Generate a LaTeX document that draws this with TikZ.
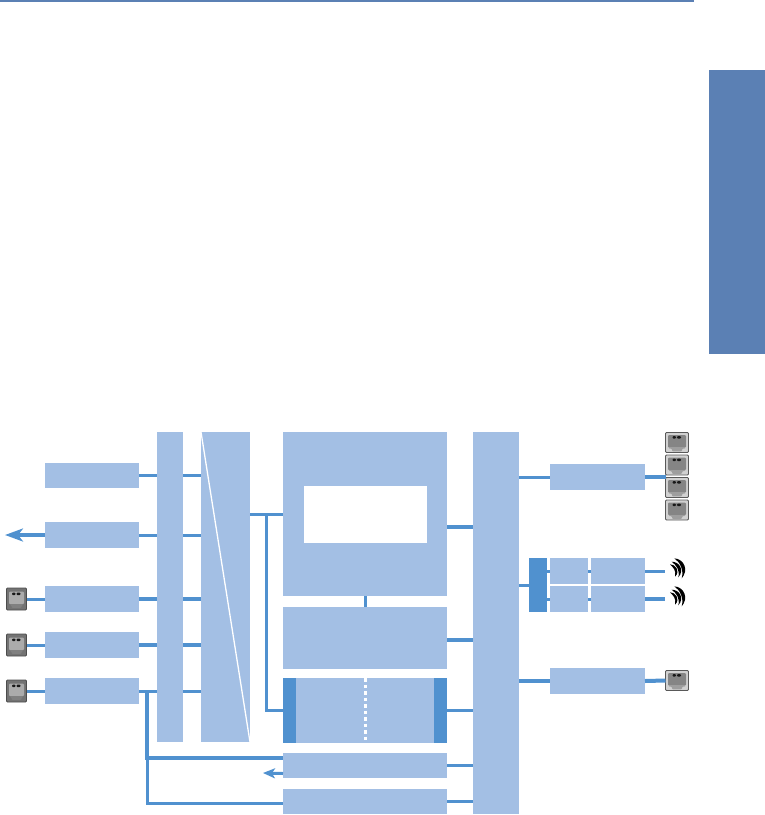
\documentclass[tikz,border=0pt]{standalone}
\usepackage{xcolor}
\usetikzlibrary{positioning,arrows.meta}
\definecolor{boxblue}{HTML}{A3BFE4}
\definecolor{linkblue}{HTML}{5091CF}
\definecolor{tabblue}{HTML}{5B80B4}

% socket face drawn inside a jack node
\newcommand{\jackface}[3]{%
  \begin{scope}[shift={(path picture bounding box.center)}]
    \fill[#1] (-#3,-7.5) rectangle (#3,5);
    \fill[#2] (-#3+1,5) -- (-#3+1,6) -- (-5,6) -- (-5,8.8) -- (5,8.8) -- (5,6) -- (#3-1,6) -- (#3-1,5) -- cycle;
    \fill[black!90] (-4.5,-6.4) rectangle (-1,-4);
    \fill[black!90] (0,-6.4) rectangle (4,-4);
  \end{scope}}

\tikzset{
  blk/.style 2 args={fill=boxblue, inner sep=0pt, outer sep=0pt, minimum width=#1, minimum height=#2},
  cap/.style 2 args={fill=linkblue, inner sep=0pt, outer sep=0pt, minimum width=#1, minimum height=#2},
  jackdark/.style={draw=black!70, fill=black!55, line width=0.8pt, rounded corners=1pt, inner sep=0pt,
    outer sep=0pt, minimum width=20pt, minimum height=22pt, path picture={\jackface{black!33}{black!50}{7.5}}},
  jacklight/.style={draw=black!65, fill=black!18, line width=0.8pt, rounded corners=1pt, inner sep=0pt,
    outer sep=0pt, minimum width=23pt, minimum height=20pt, path picture={\jackface{black!48}{black!38}{9}}},
  link/.style={draw=linkblue, line width=3pt},
  fatlink/.style={draw=linkblue, line width=4pt},
  waves/.pic={
    \fill[black] (4.3,0.3) .. controls (14,1) and (19,12) .. (11.7,20.3) .. controls (14,12) and (10,4) .. cycle;
    \fill[black] (1.7,3.7) .. controls (9,3.5) and (15,12) .. (8.3,19.3) .. controls (10.3,12) and (6,7) .. cycle;
    \fill[black] (0,6.3) .. controls (5,6) and (11,13) .. (5,18.7) .. controls (6.5,12) and (3,9.5) .. cycle;
  },
}

\begin{document}
\begin{tikzpicture}[x=1pt, y=-1pt, >=Stealth]
  \useasboundingbox (0,0) rectangle (765,815);

  % page furniture
  \fill[tabblue] (0,0) rectangle (694,2);
  \fill[tabblue] (709,70) rectangle (765,354);

  % left column
  \node[blk={94pt}{25pt}, anchor=north west] (lanA) at (45,463) {};
  \node[blk={94pt}{26pt}, anchor=north west] (lanB) at (45,522) {};
  \node[blk={94pt}{26pt}, anchor=north west] (lanC) at (45,586) {};
  \node[blk={94pt}{26pt}, below=20pt of lanC] (lanD) {};
  \node[blk={94pt}{26pt}, below=20pt of lanD] (lanE) {};
  \node[jackdark, left=18.5pt of lanC] (jackC) {};
  \node[jackdark, left=18.5pt of lanD] (jackD) {};
  \node[jackdark, left=18.5pt of lanE] (jackE) {};
  \coordinate (outB) at (5,535);

  % switch and wedge
  \node[blk={26pt}{310pt}, anchor=north west] (swbus) at (157,432) {};
  \node[blk={49pt}{310pt}, anchor=north west] (wedge) at (201,432) {};
  \draw[white, line width=1.3pt] (wedge.north west) -- (wedge.south east);

  % centre stack
  \node[blk={164pt}{164pt}, anchor=north west] (cpu) at (283,432) {};
  \node[fill=white, inner sep=0pt, outer sep=0pt, minimum width=123pt, minimum height=57pt, anchor=north west] (cache) at (304,486) {};
  \node[blk={164pt}{62pt}, below=11pt of cpu] (mem) {};
  \node[blk={164pt}{65pt}, below=9pt of mem] (pci) {};
  \node[cap={13pt}{65pt}, anchor=west] (pciL) at (pci.west) {};
  \node[cap={13pt}{65pt}, anchor=east] (pciR) at (pci.east) {};
  \node[blk={164pt}{25pt}, below=10pt of pci] (usb) {};
  \node[blk={164pt}{25pt}, below=11pt of usb] (sata) {};
  \node[blk={46pt}{382pt}, anchor=north west] (xbus) at (473,432) {};
  \draw[white, line width=3pt, dash pattern=on 3.5pt off 3pt] (pci.north) -- (pci.south);
  \coordinate (outU) at (263,773);
  \coordinate (tapE) at (147,691);
  \coordinate (tapW) at (266,514);

  % right column
  \node[blk={95pt}{26pt}, anchor=north west] (eth) at (550,464) {};
  \node[cap={18pt}{54pt}, anchor=north west] (mux) at (529,558) {};
  \node[blk={38pt}{26pt}, anchor=north west] (phyA) at (550,558) {};
  \node[blk={38pt}{26pt}, anchor=north west] (phyB) at (550,586) {};
  \node[blk={54pt}{26pt}, right=3pt of phyA] (radA) {};
  \node[blk={54pt}{26pt}, right=3pt of phyB] (radB) {};
  \node[blk={95pt}{26pt}, anchor=north west] (ser) at (550,668) {};
  \node[jacklight, anchor=north west] (jackF) at (665.5,432.5) {};
  \node[jacklight, below=2.5pt of jackF] (jackG) {};
  \node[jacklight, below=2.5pt of jackG] (jackH) {};
  \node[jacklight, below=2.5pt of jackH] (jackI) {};
  \node[jacklight, anchor=north west] (jackS) at (665.5,670.5) {};
  \coordinate (antA) at (665,571);
  \coordinate (antB) at (665,599);
  \pic at (670,558) {waves};
  \pic at (670,586) {waves};

  % left links
  \foreach \a/\w in {lanA/link,lanB/link,lanC/fatlink,lanD/fatlink,lanE/link} {
    \draw[\w] (\a.east) -- (\a.east -| swbus.west);
    \draw[\w] (\a.east -| swbus.east) -- (\a.east -| wedge.west);
  }
  \draw[link] (jackC) -- (lanC);
  \draw[link] (jackD) -- (lanD);
  \draw[link] (jackE) -- (lanE);
  \draw[fatlink, -{Stealth[length=18pt, width=13pt, inset=5pt]}] (lanB.west) -- (outB);

  % wedge to centre
  \draw[link] (wedge.east |- cpu.west) -- (cpu.west);
  \draw[link] (tapW) |- (pci.west);
  \draw[link] (cpu.south) -- (mem.north);
  \draw[link] (tapE) |- ([yshift=-1.5pt]sata.west);
  \draw[fatlink] ([yshift=7.5pt]usb.west) -| (tapE);
  \draw[link, -{Stealth[length=12pt, width=10pt, inset=3pt]}] ([yshift=-8pt]usb.west) -- (outU);

  % centre to crossbar
  \draw[fatlink] ([yshift=-12.5pt]cpu.east) -- ([yshift=-12.5pt]cpu.east -| xbus.west);
  \draw[fatlink] ([yshift=-2pt]mem.east) -- ([yshift=-2pt]mem.east -| xbus.west);
  \draw[link] (pci.east) -- (pci.east -| xbus.west);
  \draw[link] (usb.east) -- (usb.east -| xbus.west);
  \draw[link] (sata.east) -- (sata.east -| xbus.west);

  % right links
  \draw[link] (xbus.east |- eth.west) -- (eth.west);
  \draw[fatlink] (eth.east) -- (eth.east -| jackG.west);
  \draw[link] (xbus.east |- mux.west) -- (mux.west);
  \draw[link] (mux.east |- phyA.west) -- (phyA.west);
  \draw[link] (mux.east |- phyB.west) -- (phyB.west);
  \draw[link] (phyA.east) -- (radA.west);
  \draw[link] (phyB.east) -- (radB.west);
  \draw[link] (radA.east) -- (antA);
  \draw[fatlink] (radB.east) -- (antB);
  \draw[fatlink] (xbus.east |- ser.west) -- (ser.west);
  \draw[fatlink] (ser.east) -- (jackS.west);
\end{tikzpicture}
\end{document}
